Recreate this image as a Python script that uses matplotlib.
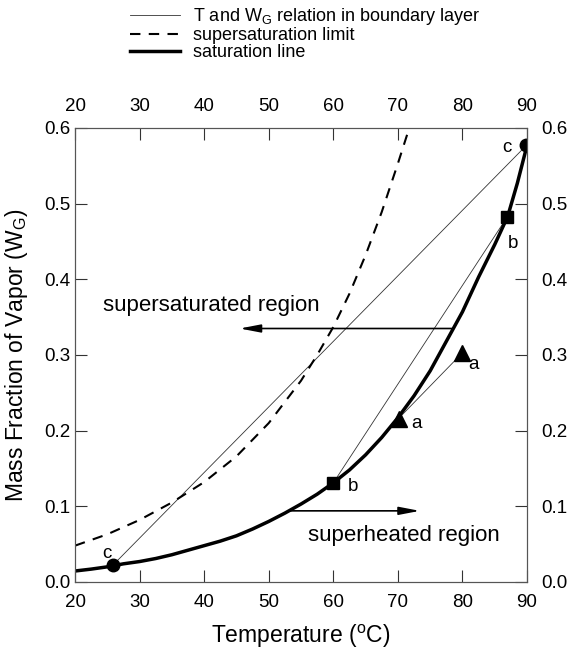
import matplotlib
matplotlib.use("Agg")
import matplotlib.pyplot as plt
from matplotlib.lines import Line2D

plt.rcParams['font.family'] = ['Liberation Sans', 'DejaVu Sans']

# saturation line
sat_T = [20, 22.5, 25, 27.5, 30, 32.5, 35, 37.5, 40, 42.5, 45, 47.5, 50, 52.5, 55,
         57.5, 60, 62.5, 65, 67.5, 70, 72.5, 75, 77.5, 80, 82.5, 85, 87, 88.5, 90]
sat_W = [0.0145, 0.017, 0.020, 0.024, 0.027, 0.031, 0.036, 0.042, 0.048, 0.054, 0.061,
         0.070, 0.080, 0.091, 0.103, 0.116, 0.131, 0.148, 0.168, 0.191, 0.217, 0.246,
         0.279, 0.318, 0.357, 0.403, 0.446, 0.483, 0.527, 0.577]

# supersaturation limit
sup_T = [20, 25, 30, 35, 40, 45, 50, 55, 57.5, 60, 62.5, 65, 67.5, 70, 71.5]
sup_W = [0.048, 0.063, 0.082, 0.105, 0.132, 0.166, 0.210, 0.266, 0.300, 0.337,
         0.381, 0.432, 0.489, 0.553, 0.593]

# boundary-layer relations (T, W) pairs
c_T = [25.9, 89.9]
c_W = [0.0225, 0.577]
b_T = [60.0, 86.9]
b_W = [0.131, 0.482]
a_T = [79.9, 70.1]
a_W = [0.302, 0.216]

x_ticks = [20, 30, 40, 50, 60, 70, 80, 90]
y_ticks = [0.0, 0.1, 0.2, 0.3, 0.4, 0.5, 0.6]

fig = plt.figure(figsize=(5.67, 6.52), dpi=100)
ax = fig.add_axes([0.1323, 0.1074, 0.7972, 0.6963])

thin = dict(color='#333333', lw=0.6)
ax.plot(c_T, c_W, **thin)
ax.plot(b_T, b_W, **thin)
ax.plot(a_T, a_W, **thin)
ax.plot(sup_T, sup_W, color='black', lw=1.5, ls=(0, (5, 4)))
ax.plot(sat_T, sat_W, color='black', lw=2.5, solid_capstyle='butt')

ax.plot(c_T, c_W, 'o', color='black', ms=9)
ax.plot(b_T, b_W, 's', color='black', ms=9)
ax.plot(a_T, a_W, '^', color='black', ms=12)

lab = dict(fontsize=13.5, color='black')
ax.text(24.9, 0.037, 'c', ha='center', va='center', **lab)
ax.text(86.9, 0.574, 'c', ha='center', va='center', **lab)
ax.text(87.9, 0.447, 'b', ha='center', va='center', **lab)
ax.text(63.1, 0.126, 'b', ha='center', va='center', **lab)
ax.text(72.9, 0.210, 'a', ha='center', va='center', **lab)
ax.text(81.7, 0.288, 'a', ha='center', va='center', **lab)

arr = dict(arrowstyle='-|>,head_length=1.25,head_width=0.24', color='black', lw=1.2,
           shrinkA=0, shrinkB=0)
ax.annotate('', xy=(45.5, 0.335), xytext=(78.3, 0.335), arrowprops=arr)
ax.annotate('', xy=(73.4, 0.094), xytext=(53.3, 0.094), arrowprops=arr)
ax.text(24.4, 0.366, 'supersaturated region', fontsize=16, va='center', ha='left')
ax.text(56.1, 0.062, 'superheated region', fontsize=16, va='center', ha='left')

ax.set_xlim(20, 90)
ax.set_ylim(0, 0.6)
ax.set_xticks(x_ticks)
ax.set_yticks(y_ticks)
ax.set_yticklabels([f'{v:.1f}' for v in y_ticks])
ax.tick_params(direction='in', length=8.5, width=0.8, color='#333333', labelsize=13.5)
ax.tick_params(axis='x', top=True, labeltop=True, pad=9)
ax.tick_params(axis='y', left=True, labelleft=True, right=False, pad=3.5)
for s in ax.spines.values():
    s.set_linewidth(0.8)
    s.set_color('#555555')

ax2 = ax.twinx()
ax2.set_ylim(0, 0.6)
ax2.set_yticks(y_ticks)
ax2.set_yticklabels([f'{v:.1f}' for v in y_ticks])
ax2.tick_params(direction='in', length=8.5, width=0.8, color='#333333', labelsize=13.5, pad=10)
for s in ax2.spines.values():
    s.set_linewidth(0.8)
    s.set_color('#555555')

ax.set_xlabel(r'Temperature ($^\mathregular{o}$C)', fontsize=16.5, labelpad=8)
ax.set_ylabel(r'Mass Fraction of Vapor (W$_\mathregular{G}$)', fontsize=16.5, labelpad=10)

handles = [Line2D([], [], color='#333333', lw=0.6),
           Line2D([], [], color='black', lw=1.5, ls=(0, (5, 4))),
           Line2D([], [], color='black', lw=2.5)]
labels = [r'T and W$_\mathregular{G}$ relation in boundary layer',
          'supersaturation limit', 'saturation line']
fig.legend(handles, labels, loc='upper left', bbox_to_anchor=(0.207, 1.01),
           frameon=False, fontsize=13, handlelength=2.75, handletextpad=0.72,
           labelspacing=0.0, borderpad=0.2)

fig.savefig('out.png', dpi=100)
